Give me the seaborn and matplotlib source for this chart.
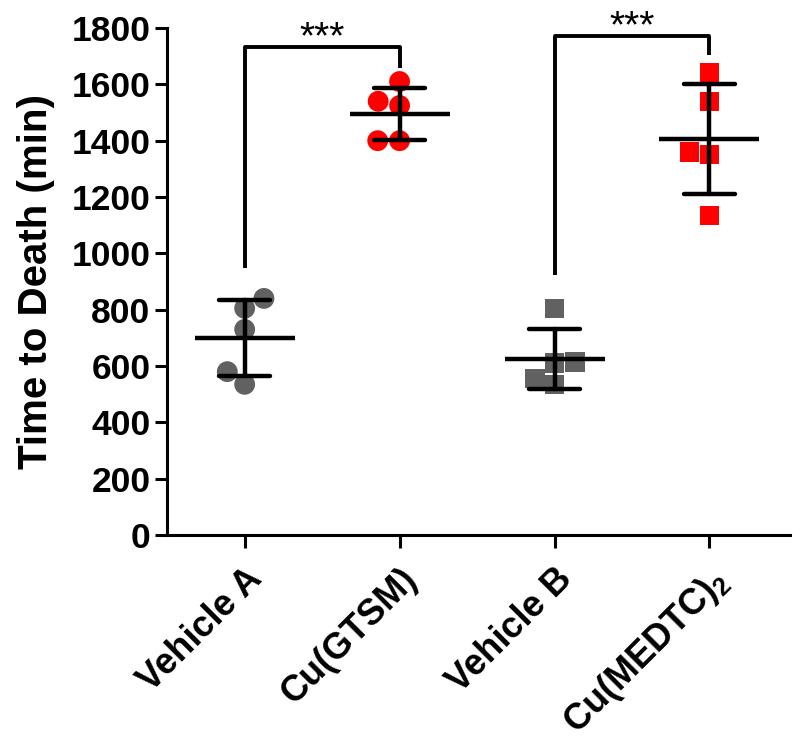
import pandas as pd
import matplotlib
matplotlib.use("Agg")
import matplotlib.pyplot as plt
import seaborn as sns

groups = ["Vehicle A", "Cu(GTSM)", "Vehicle B", "Cu(MEDTC)2"]
vehicle_a = [840, 805, 730, 580, 535]
cu_gtsm = [1610, 1540, 1525, 1400, 1400]
vehicle_b = [805, 610, 615, 535, 555]
cu_medtc = [1640, 1540, 1360, 1350, 1135]
tick_labels = ["Vehicle A", "Cu(GTSM)", "Vehicle B", r"Cu(MEDTC)$\mathregular{_2}$"]
colors = {"Vehicle A": "#616161", "Cu(GTSM)": "#ff0000",
          "Vehicle B": "#616161", "Cu(MEDTC)2": "#ff0000"}

df = pd.DataFrame({
    "group": [g for g, v in zip(groups, [vehicle_a, cu_gtsm, vehicle_b, cu_medtc]) for _ in v],
    "time": vehicle_a + cu_gtsm + vehicle_b + cu_medtc,
})

sns.set_style("ticks")
plt.rcParams["font.family"] = ["Liberation Sans", "DejaVu Sans"]
plt.rcParams["mathtext.fontset"] = "custom"
plt.rcParams["mathtext.rm"] = "Liberation Sans"
plt.rcParams["text.color"] = "black"
plt.rcParams["axes.labelcolor"] = "black"
plt.rcParams["xtick.color"] = "black"
plt.rcParams["ytick.color"] = "black"
plt.rcParams["axes.edgecolor"] = "black"

fig = plt.figure(figsize=(8, 7.51), dpi=100)
ax = fig.add_axes([0.209, 0.2876, 0.7785, 0.6751])

# circles for the first pair, squares for the second
sns.swarmplot(ax=ax, data=df[df.group.isin(groups[:2])], x="group", y="time",
              order=groups, hue="group", palette=colors, legend=False,
              marker="o", size=15, linewidth=0, zorder=1)
sns.swarmplot(ax=ax, data=df[df.group.isin(groups[2:])], x="group", y="time",
              order=groups, hue="group", palette=colors, legend=False,
              marker="s", size=14, linewidth=0, zorder=1)

# mean +/- SD
sns.pointplot(ax=ax, data=df, x="group", y="time", order=groups,
              errorbar="sd", capsize=0.33, linestyle="none", marker="_",
              markersize=72, markeredgewidth=3.2, color="black",
              err_kws={"linewidth": 3.2}, zorder=3)

ax.set_xlim(-0.5, 3.52)
ax.set_ylim(0, 1800)
ax.set_yticks(range(0, 1801, 200))
ax.set_xticks(range(4))
ax.set_xticklabels(tick_labels, rotation=45, ha="right", rotation_mode="anchor",
                   fontsize=26, fontweight="bold")
ax.tick_params(axis="y", labelsize=25.5, width=2.2, length=9, pad=3)
ax.tick_params(axis="x", width=2.2, length=9, pad=10)
for lab in ax.get_yticklabels():
    lab.set_fontweight("bold")
ax.set_ylabel("Time to Death (min)", fontsize=29, fontweight="bold", labelpad=12)
ax.set_xlabel("")
sns.despine(ax=ax)
for s in ["left", "bottom"]:
    ax.spines[s].set_linewidth(2.2)

# significance brackets
brackets = [(0, 1, 948, 1733, 1658), (2, 3, 923, 1771, 1704)]
for x0, x1, ylo, ytop, yend in brackets:
    ax.plot([x0, x0, x1, x1], [ylo, ytop, ytop, yend], color="black",
            lw=2.8, clip_on=False, solid_capstyle="butt")
    ax.annotate("***", xy=((x0 + x1) / 2, ytop), xytext=(0, -1),
                textcoords="offset points", ha="center", va="baseline",
                fontsize=28, annotation_clip=False)

fig.savefig("out.png", dpi=100)
